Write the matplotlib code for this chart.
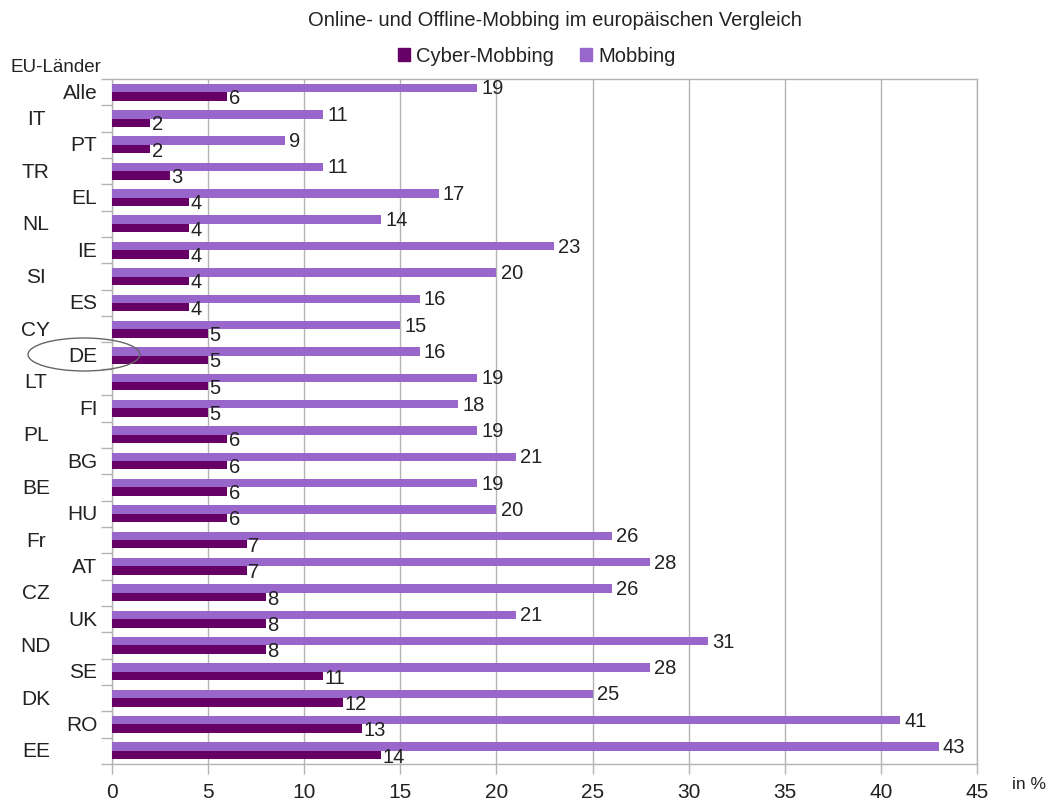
import matplotlib
matplotlib.use("Agg")
import matplotlib.pyplot as plt
from matplotlib.patches import Patch, Ellipse
import numpy as np

plt.rcParams['font.family'] = ['Liberation Sans', 'DejaVu Sans']

countries = ["Alle", "IT", "PT", "TR", "EL", "NL", "IE", "SI", "ES", "CY", "DE", "LT", "FI",
             "PL", "BG", "BE", "HU", "Fr", "AT", "CZ", "UK", "ND", "SE", "DK", "RO", "EE"]
mobbing = [19, 11, 9, 11, 17, 14, 23, 20, 16, 15, 16, 19, 18, 19, 21, 19, 20, 26, 28, 26, 21, 31, 28, 25, 41, 43]
cyber = [6, 2, 2, 3, 4, 4, 4, 4, 4, 5, 5, 5, 5, 6, 6, 6, 6, 7, 7, 8, 8, 8, 11, 12, 13, 14]
xticks = [0, 5, 10, 15, 20, 25, 30, 35, 40, 45]

c_cyber = "#660066"
c_mob = "#9966cc"
grid_c = "#b3b3b3"
txt_c = "#222222"

W, H = 1048, 803
fig = plt.figure(figsize=(W / 100, H / 100), dpi=100)
ax = fig.add_axes([112 / W, 1 - 765 / H, (977 - 112) / W, (765 - 80) / H])

y = np.arange(len(countries))
bh = 0.32
ax.barh(y - 0.16, mobbing, height=bh, color=c_mob, zorder=3)
ax.barh(y + 0.16, cyber, height=bh, color=c_cyber, zorder=3)

for i in range(len(countries)):
    ax.annotate(str(mobbing[i]), (mobbing[i], y[i] - 0.16), xytext=(3, 0), textcoords="offset points",
                va="center", ha="left", fontsize=14.5, color=txt_c, zorder=4)
    ax.annotate(str(cyber[i]), (cyber[i], y[i] + 0.2), xytext=(1, 0), textcoords="offset points",
                va="center", ha="left", fontsize=14.5, color=txt_c, zorder=4)

ax.set_xlim(0, 45)
ax.set_ylim(len(countries) - 0.5, -0.5)
ax.set_xticks(xticks)
ax.set_xticklabels([str(t) for t in xticks], fontsize=15, color=txt_c)
ax.set_yticks(np.arange(-0.5, len(countries), 1.0))
ax.set_yticklabels([])
ax.tick_params(axis="y", length=8, color=grid_c, width=1)
ax.tick_params(axis="x", length=7, color=grid_c, width=1, pad=6)
ax.grid(axis="x", color=grid_c, linewidth=1, zorder=0)
for s in ax.spines.values():
    s.set_color(grid_c)
    s.set_linewidth(1)

trans = ax.get_yaxis_transform()
for i, c in enumerate(countries):
    if i % 2 == 0:
        ax.text(-0.017, y[i], c, transform=trans, ha="right", va="center", fontsize=15, color=txt_c)
    else:
        ax.text(-0.088, y[i], c, transform=trans, ha="center", va="center", fontsize=15, color=txt_c)

fig.text(555 / W, 1 - 20 / H, "Online- und Offline-Mobbing im europäischen Vergleich",
         ha="center", va="center", fontsize=14.5, color=txt_c)
fig.text(10 / W, 1 - 68 / H, "EU-Länder", ha="left", va="center", fontsize=13.5, color=txt_c)
fig.text(1012 / W, 1 - 785 / H, "in %", ha="left", va="center", fontsize=12.5, color=txt_c)

handles = [Patch(color=c_cyber, label="Cyber-Mobbing"), Patch(color=c_mob, label="Mobbing")]
fig.legend(handles=handles, loc="center", bbox_to_anchor=(537 / W, 1 - 57 / H), ncol=2, frameon=False,
           fontsize=14.5, handlelength=0.6, handleheight=0.6, handletextpad=0.3, columnspacing=1.3,
           labelcolor=txt_c)

ell = Ellipse((84 / W, 1 - 355.5 / H), 112 / W, 33 / H, transform=fig.transFigure,
              fill=False, edgecolor="#666666", linewidth=1)
fig.patches.append(ell)

fig.savefig("out.png", dpi=100)
